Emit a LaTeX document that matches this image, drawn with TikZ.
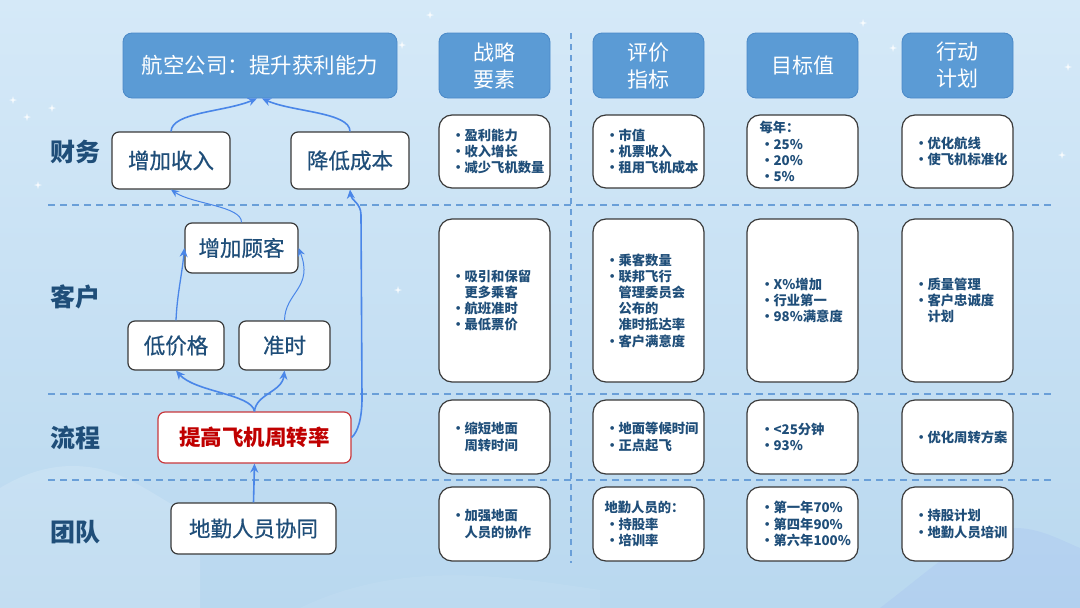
\documentclass[tikz,border=0pt]{standalone}
\usepackage{fontspec}
\setmainfont{Noto Sans CJK SC}
\newfontfamily\medfont{Noto Sans CJK SC}[FakeBold=0.6]
\usetikzlibrary{arrows.meta,calc}
\definecolor{hdr}{HTML}{5B9BD5}
\definecolor{hdrb}{HTML}{4A89C8}
\definecolor{txt}{HTML}{1F4E79}
\definecolor{arr}{HTML}{4A86E8}
\definecolor{dashc}{HTML}{6A9FD8}
\definecolor{bgtop}{HTML}{D5E9F8}
\definecolor{bgbot}{HTML}{B9D8EF}
\definecolor{redc}{HTML}{C00000}
\definecolor{redb}{HTML}{C8383C}
\definecolor{boxb}{HTML}{3A3A3A}
\newcommand{\bu}[1]{\makebox[14pt][l]{\hspace{1pt}•}#1}
\newcommand{\hg}[1]{\hspace{14pt}#1}
\tikzset{
  hdrbox/.style={draw=hdrb, line width=0.8pt, fill=hdr, rounded corners=9pt, text=white,
     font=\fontsize{21}{27}\selectfont, align=center, inner sep=0pt},
  rowbox/.style={draw=boxb, line width=1.2pt, fill=white, rounded corners=13pt, inner sep=0pt},
  leftbox/.style={draw=boxb, line width=1.2pt, fill=white, rounded corners=7pt, inner sep=0pt,
     text=txt, font=\medfont\fontsize{21.5}{24}\selectfont},
  boxtxt/.style={anchor=west, align=left, inner sep=0pt, text=txt,
     font=\bfseries\fontsize{13.3}{16.2}\selectfont},
  rowlabel/.style={text=txt, font=\bfseries\fontsize{25}{25}\selectfont, inner sep=0pt},
  dashline/.style={draw=dashc, line width=1.4pt, dash pattern=on 7pt off 5pt},
  arrow/.style={draw=arr, line width=1.6pt, -{Stealth[length=9pt,width=8pt]}},
  thinarrow/.style={draw=arr, line width=1pt, -{Stealth[length=8pt,width=7pt]}},
  spark/.pic={\fill[white,opacity=0.85] (0,-4) -- (0.8,-0.8) -- (4,0) -- (0.8,0.8) -- (0,4) -- (-0.8,0.8) -- (-4,0) -- (-0.8,-0.8) -- cycle;}
}
\begin{document}
\begin{tikzpicture}[x=1pt,y=-1pt]
\useasboundingbox (0,0) rectangle (1080,608);
% background
\shade[top color=bgtop, bottom color=bgbot] (0,0) rectangle (1080,608);
\fill[white,opacity=0.15] (0,488) .. controls (30,470) and (60,462) .. (95,468) .. controls (130,474) and (160,500) .. (200,520) -- (200,608) -- (0,608) -- cycle;
\fill[blue!40!bgbot,opacity=0.09] (880,608) .. controls (930,570) and (960,540) .. (1000,530) .. controls (1030,522) and (1060,540) .. (1080,548) -- (1080,608) -- cycle;
\fill[white,opacity=0.07] (300,608) .. controls (400,560) and (500,575) .. (600,590) -- (600,608) -- cycle;
\foreach \p in {(13,100),(27,117),(52,108),(38,185),(402,45),(430,15),(863,23),(893,48),(1062,155),(398,290),(1068,67)}
  \pic at \p {spark};

% dashed separators
\draw[dashline] (48,205) -- (1054,205);
\draw[dashline] (48,394) -- (1054,394);
\draw[dashline] (48,480) -- (1054,480);
\draw[draw=dashc, line width=1.4pt, dash pattern=on 6pt off 5pt] (571,33) -- (571,563);

% title and headers
\node[hdrbox, minimum width=274pt, minimum height=65pt, font=\fontsize{21.5}{27}\selectfont] (title) at (260,65.5) {航空公司：提升获利能力};
\node[hdrbox, minimum width=111pt, minimum height=65pt] (h1) at (494.5,65.5) {战略\\要素};
\node[hdrbox, minimum width=111pt, minimum height=65pt] (h2) at (648.5,65.5) {评价\\指标};
\node[hdrbox, minimum width=111pt, minimum height=65pt] (h3) at (802.5,65.5) {目标值};
\node[hdrbox, minimum width=111pt, minimum height=65pt] (h4) at (957.5,65.5) {行动\\计划};

% row labels
\node[rowlabel] (l1) at (75,152) {财务};
\node[rowlabel] (l2) at (75,297) {客户};
\node[rowlabel] (l3) at (75,438) {流程};
\node[rowlabel] (l4) at (75,532) {团队};

% left strategy map nodes
\node[leftbox, minimum width=118pt, minimum height=57pt] (srzj) at (171,160.5) {增加收入};
\node[leftbox, minimum width=118pt, minimum height=57pt] (jdcb) at (350,160.5) {降低成本};
\node[leftbox, minimum width=113pt, minimum height=50pt] (zjgk) at (241.5,248) {增加顾客};
\node[leftbox, minimum width=96pt, minimum height=49pt] (djg) at (176,345.5) {低价格};
\node[leftbox, minimum width=91pt, minimum height=49pt] (zs) at (284.5,345.5) {准时};
\node[leftbox, draw=redb, text=redc, minimum width=193pt, minimum height=51pt, font=\bfseries\fontsize{21.5}{24}\selectfont] (tg) at (254.5,437.5) {提高飞机周转率};
\node[leftbox, minimum width=165pt, minimum height=51pt] (dq) at (253.5,528.5) {地勤人员协同};

% arrows
\coordinate (tL) at ($(title.south)+(-3,0)$);
\coordinate (tR) at ($(title.south)+(2,0)$);
\draw[arrow] (srzj.north) .. controls (172,112) and (225,112) .. (tL);
\draw[arrow] (jdcb.north) .. controls (350,112) and (292,112) .. (tR);
\draw[thinarrow] (zjgk.north) .. controls (242,206) and (192,204) .. (srzj.south);
\draw[arrow, line width=1.3pt] (djg.north) .. controls (177,295) and (182,275) .. (zjgk.west);
\draw[thinarrow] (zs.north) .. controls (285,292) and (314,288) .. (zjgk.east);
\draw[arrow] (tg.north) .. controls (252,394) and (195,392) .. (djg.south);
\draw[arrow] (tg.north) .. controls (256,394) and (282,392) .. (zs.south);
\draw[arrow] (tg.east) .. controls (358,432) and (362,418) .. (362,398) -- (361,215) .. controls (361,203) and (351,200) .. (jdcb.south);
\draw[arrow] (dq.north) -- (tg.south);

% row 1 boxes
\node[rowbox, minimum width=111pt, minimum height=73pt] (b11) at (494.5,151.5) {};
\node[rowbox, minimum width=111pt, minimum height=73pt] (b12) at (648.5,151.5) {};
\node[rowbox, minimum width=111pt, minimum height=73pt] (b13) at (802.5,151.5) {};
\node[rowbox, minimum width=111pt, minimum height=73pt] (b14) at (957.5,151.5) {};
\node[boxtxt] (t11) at ($(b11.west)+(12,0)$) {\bu{盈利能力}\\\bu{收入增长}\\\bu{减少飞机数量}};
\node[boxtxt] (t12) at ($(b12.west)+(12,0)$) {\bu{市值}\\\bu{机票收入}\\\bu{租用飞机成本}};
\node[boxtxt] (t13) at ($(b13.west)+(13,0)$) {每年：\\\bu{25\%}\\\bu{20\%}\\\bu{5\%}};
\node[boxtxt] (t14) at ($(b14.west)+(12,0)$) {\bu{优化航线}\\\bu{使飞机标准化}};

% row 2 boxes
\node[rowbox, minimum width=111pt, minimum height=163pt] (b21) at (494.5,300.5) {};
\node[rowbox, minimum width=111pt, minimum height=163pt] (b22) at (648.5,300.5) {};
\node[rowbox, minimum width=111pt, minimum height=163pt] (b23) at (802.5,300.5) {};
\node[rowbox, minimum width=111pt, minimum height=163pt] (b24) at (957.5,300.5) {};
\node[boxtxt] (t21) at ($(b21.west)+(12,0)$) {\bu{吸引和保留}\\\hg{更多乘客}\\\bu{航班准时}\\\bu{最低票价}};
\node[boxtxt] (t22) at ($(b22.west)+(12,0)$) {\bu{乘客数量}\\\bu{联邦飞行}\\\hg{管理委员会}\\\hg{公布的}\\\hg{准时抵达率}\\\bu{客户满意度}};
\node[boxtxt] (t23) at ($(b23.west)+(13,0)$) {\bu{X\%增加}\\\bu{行业第一}\\\bu{98\%满意度}};
\node[boxtxt] (t24) at ($(b24.west)+(12,0)$) {\bu{质量管理}\\\bu{客户忠诚度}\\\hg{计划}};

% row 3 boxes
\node[rowbox, minimum width=111pt, minimum height=74pt] (b31) at (494.5,437) {};
\node[rowbox, minimum width=111pt, minimum height=74pt] (b32) at (648.5,437) {};
\node[rowbox, minimum width=111pt, minimum height=74pt] (b33) at (802.5,437) {};
\node[rowbox, minimum width=111pt, minimum height=74pt] (b34) at (957.5,437) {};
\node[boxtxt] (t31) at ($(b31.west)+(12,0)$) {\bu{缩短地面}\\\hg{周转时间}};
\node[boxtxt] (t32) at ($(b32.west)+(12,0)$) {\bu{地面等候时间}\\\bu{正点起飞}};
\node[boxtxt] (t33) at ($(b33.west)+(13,0)$) {\bu{<25分钟}\\\bu{93\%}};
\node[boxtxt] (t34) at ($(b34.west)+(12,0)$) {\bu{优化周转方案}};

% row 4 boxes
\node[rowbox, minimum width=111pt, minimum height=74pt] (b41) at (494.5,524) {};
\node[rowbox, minimum width=111pt, minimum height=74pt] (b42) at (648.5,524) {};
\node[rowbox, minimum width=111pt, minimum height=74pt] (b43) at (802.5,524) {};
\node[rowbox, minimum width=111pt, minimum height=74pt] (b44) at (957.5,524) {};
\node[boxtxt] (t41) at ($(b41.west)+(12,0)$) {\bu{加强地面}\\\hg{人员的协作}};
\node[boxtxt] (t42) at ($(b42.west)+(12,0)$) {地勤人员的：\\\bu{持股率}\\\bu{培训率}};
\node[boxtxt] (t43) at ($(b43.west)+(13,0)$) {\bu{第一年70\%}\\\bu{第四年90\%}\\\bu{第六年100\%}};
\node[boxtxt] (t44) at ($(b44.west)+(12,0)$) {\bu{持股计划}\\\bu{地勤人员培训}};
\end{tikzpicture}
\end{document}
